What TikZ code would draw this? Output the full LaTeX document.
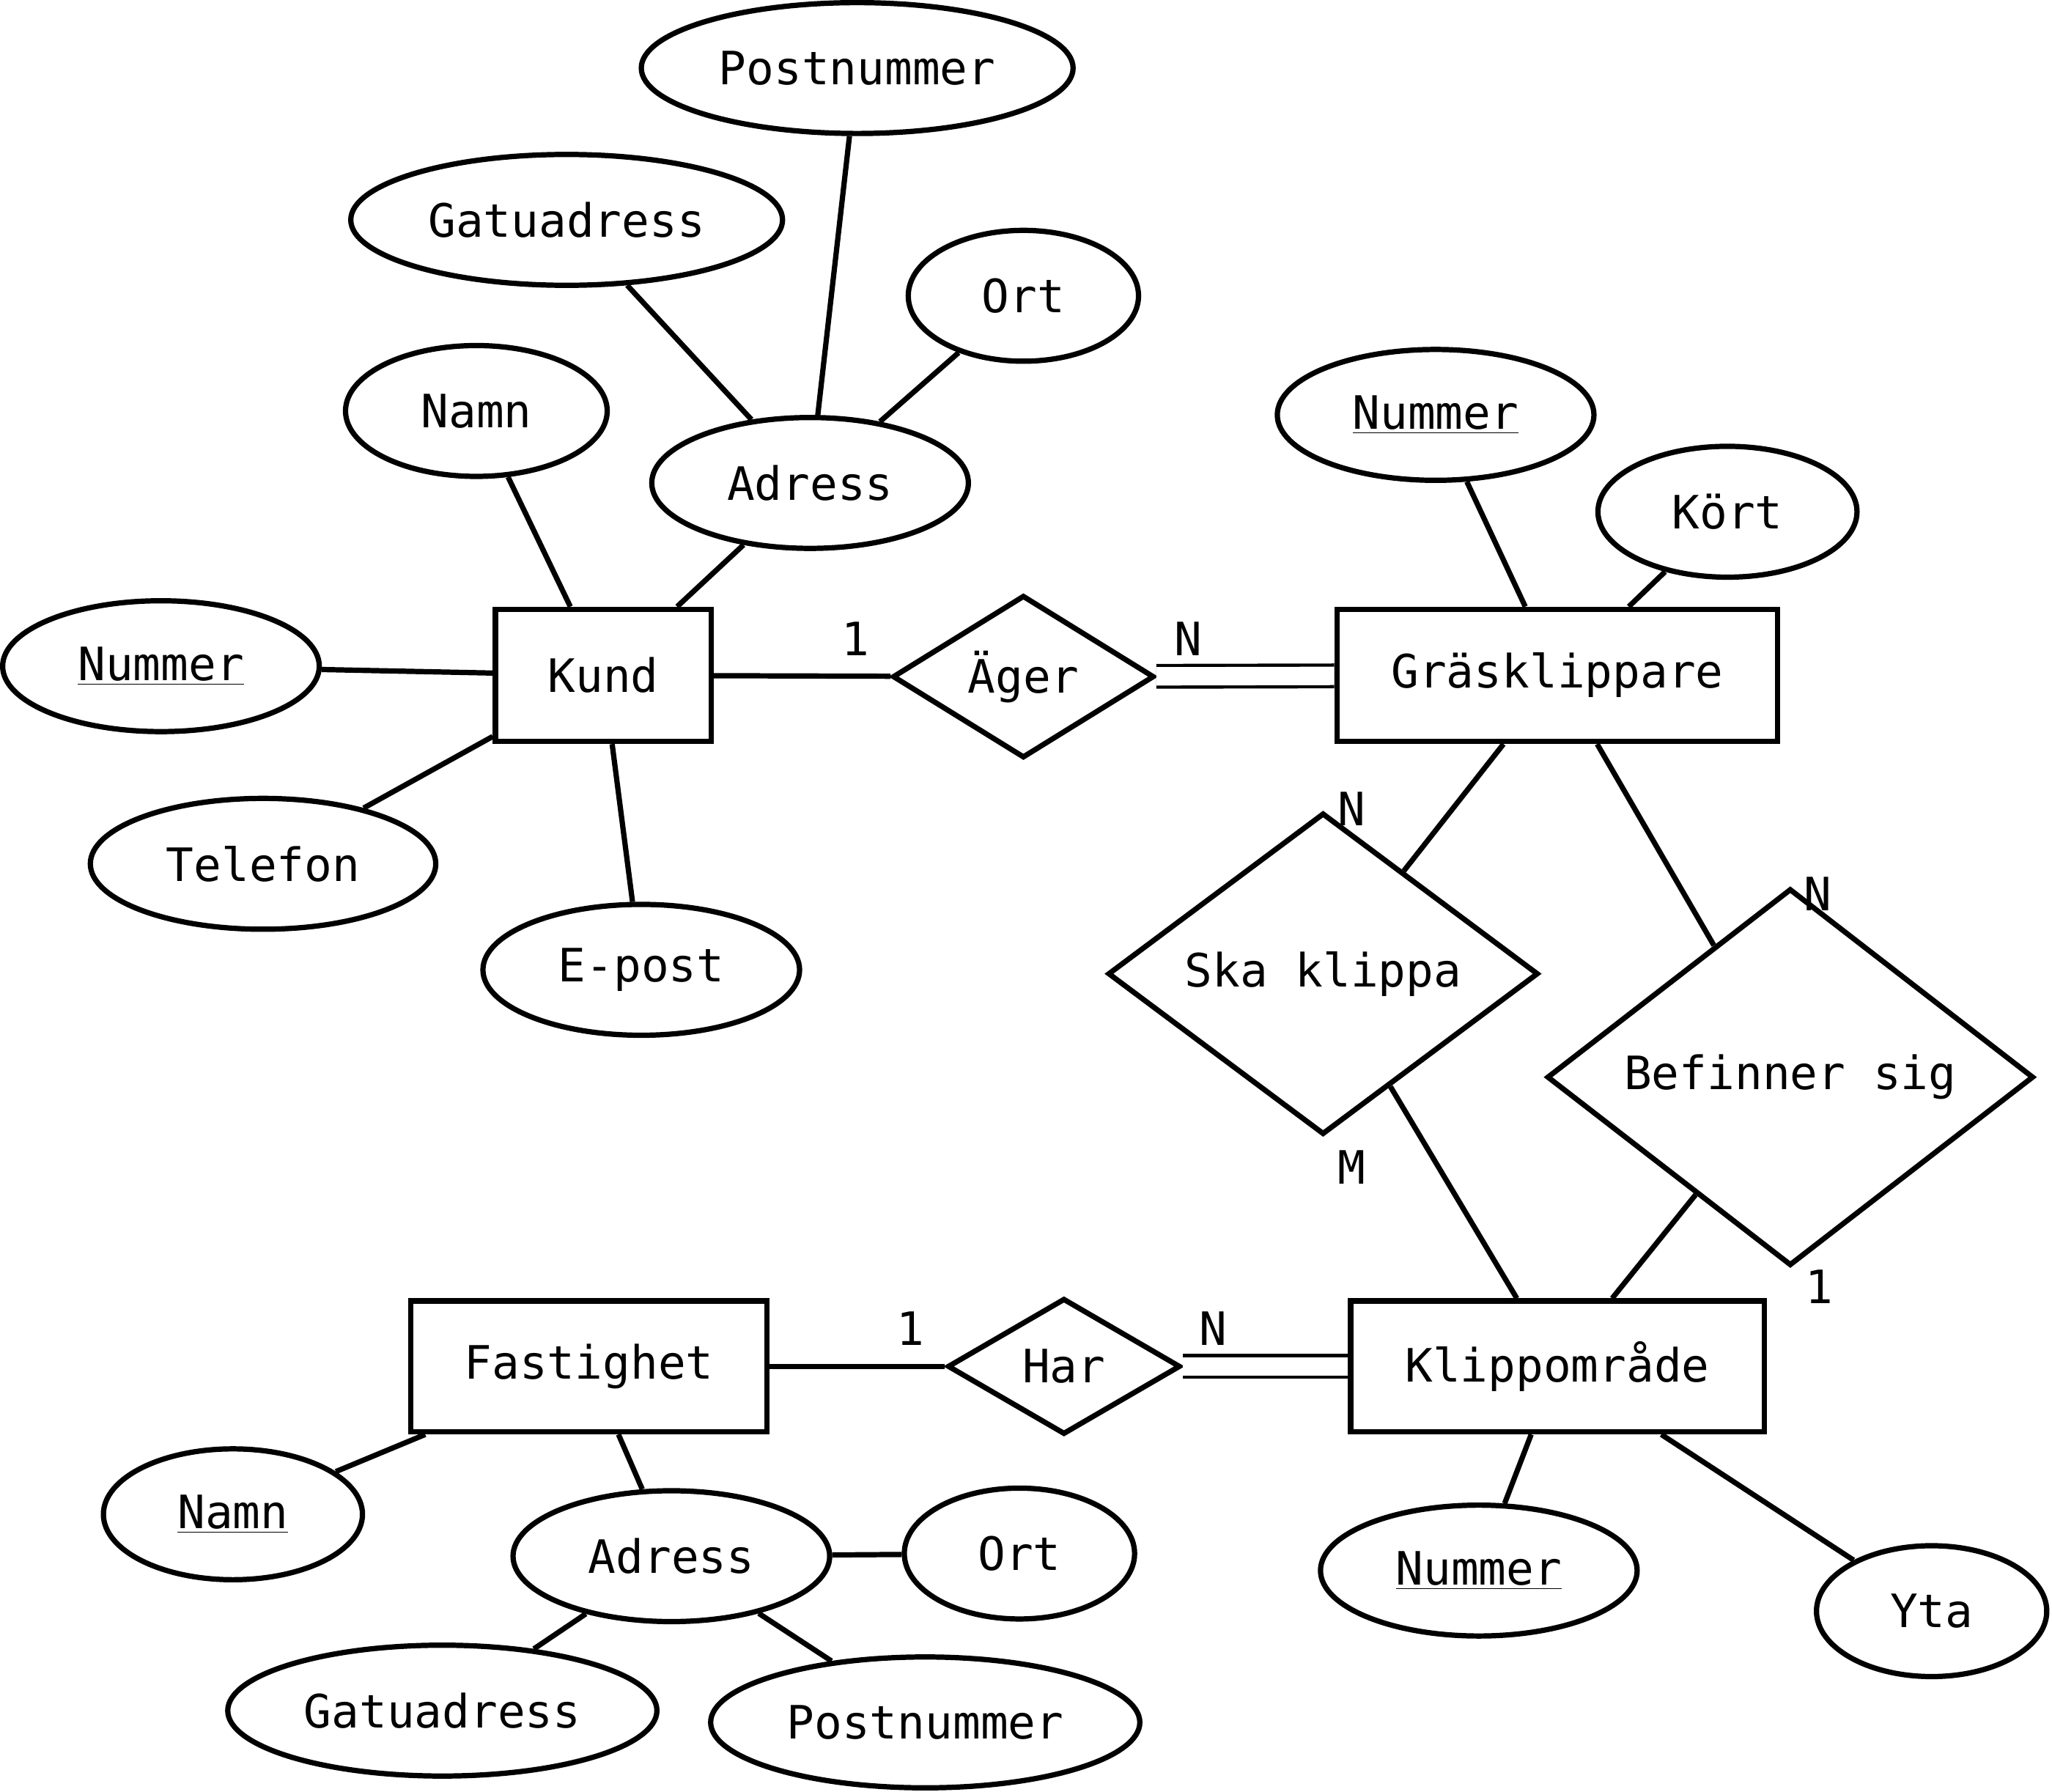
\documentclass[tikz,border=0pt]{standalone}
\usepackage{fontspec}
\setmainfont{DejaVu Sans Mono}
\usetikzlibrary{shapes.geometric}

\tikzset{
  attr/.style={draw, ellipse, line width=2.3pt, inner sep=0pt},
  ent/.style={draw, rectangle, line width=2.3pt, inner sep=0pt},
  rel/.style={draw, diamond, line width=2.3pt, inner sep=0pt},
  con/.style={line width=2.3pt},
  dbl/.style={line width=1.4pt, double, double distance=8pt},
  card/.style={inner sep=0pt}
}

\begin{document}
\begin{tikzpicture}[x=0.02cm, y=-0.02cm, font=\fontsize{20}{24}\selectfont]
  \useasboundingbox (0,0) rectangle (1568,1369);

  % entities
  \node[ent, minimum width=3.3cm, minimum height=2.02cm] (kund) at (461,516) {Kund};
  \node[ent, minimum width=6.74cm, minimum height=2.02cm] (gras) at (1190,516) {Gräsklippare};
  \node[ent, minimum width=5.44cm, minimum height=2.0cm] (fast) at (450,1044) {Fastighet};
  \node[ent, minimum width=6.32cm, minimum height=2.0cm] (klipp) at (1190,1044) {Klippområde};

  % relations
  \node[rel, minimum width=4.0cm, minimum height=2.36cm] (ager) at (782,517) {Äger};
  \node[rel, minimum width=6.58cm, minimum height=3.92cm] (ska) at (1011,744) {Ska klippa};
  \node[rel, minimum width=7.44cm, minimum height=4.44cm] (bef) at (1368,823) {Befinner sig};
  \node[rel, minimum width=3.56cm, minimum height=2.08cm] (har) at (813,1044) {Har};

  % attributes of Kund
  \node[attr, minimum width=6.6cm, minimum height=2cm] (kpost) at (655,52) {Postnummer};
  \node[attr, minimum width=6.6cm, minimum height=2cm] (kgata) at (433,168) {Gatuadress};
  \node[attr, minimum width=3.52cm, minimum height=2cm] (kort) at (782,226) {Ort};
  \node[attr, minimum width=4.0cm, minimum height=2cm] (knamn) at (364,314) {Namn};
  \node[attr, minimum width=4.84cm, minimum height=2cm] (kadr) at (619,369) {Adress};
  \node[attr, minimum width=4.84cm, minimum height=2cm] (knr) at (123,509) {\underline{Nummer}};
  \node[attr, minimum width=5.28cm, minimum height=2cm] (ktel) at (201,660) {Telefon};
  \node[attr, minimum width=4.84cm, minimum height=2cm] (kmail) at (490,741) {E-post};

  % attributes of Gräsklippare
  \node[attr, minimum width=4.84cm, minimum height=2cm] (gnr) at (1097,317) {\underline{Nummer}};
  \node[attr, minimum width=3.96cm, minimum height=2cm] (gkort) at (1320,391) {Kört};

  % attributes of Fastighet
  \node[attr, minimum width=3.96cm, minimum height=2cm] (fnamn) at (178,1157) {\underline{Namn}};
  \node[attr, minimum width=4.84cm, minimum height=2cm] (fadr) at (513,1189) {Adress};
  \node[attr, minimum width=3.52cm, minimum height=2cm] (fort) at (779,1187) {Ort};
  \node[attr, minimum width=6.56cm, minimum height=2cm] (fgata) at (338,1307) {Gatuadress};
  \node[attr, minimum width=6.56cm, minimum height=2cm] (fpost) at (707,1316) {Postnummer};

  % attributes of Klippområde
  \node[attr, minimum width=4.84cm, minimum height=2cm] (knr2) at (1130,1200) {\underline{Nummer}};
  \node[attr, minimum width=3.52cm, minimum height=2cm] (yta) at (1476,1231) {Yta};

  % attribute lines
  \draw[con] (kpost) -- (kadr);
  \draw[con] (kgata) -- (kadr);
  \draw[con] (kort) -- (kadr);
  \draw[con] (kadr) -- (kund);
  \draw[con] (knamn) -- (kund);
  \draw[con] (knr) -- (kund);
  \draw[con] (ktel) -- (kund);
  \draw[con] (kmail) -- (kund);
  \draw[con] (gnr) -- (gras);
  \draw[con] (gkort) -- (gras);
  \draw[con] (fnamn) -- (fast);
  \draw[con] (fadr) -- (fast);
  \draw[con] (fort) -- (fadr);
  \draw[con] (fgata) -- (fadr);
  \draw[con] (fpost) -- (fadr);
  \draw[con] (knr2) -- (klipp);
  \draw[con] (yta) -- (klipp);

  % relation lines
  \draw[con] (kund) -- (ager);
  \draw[dbl] (ager) -- (gras);
  \draw[con] (gras) -- (ska);
  \draw[con] (ska) -- (klipp);
  \draw[con] (gras) -- (bef);
  \draw[con] (bef) -- (klipp);
  \draw[con] (fast) -- (har);
  \draw[dbl] (har) -- (klipp);

  % cardinalities
  \node[card] (c1) at (654,488) {1};
  \node[card] (c2) at (908,488) {N};
  \node[card] (c3) at (1033,618) {N};
  \node[card] (c4) at (1033,892) {M};
  \node[card] (c5) at (1389,683) {N};
  \node[card] (c6) at (1390,983) {1};
  \node[card] (c7) at (696,1015) {1};
  \node[card] (c8) at (927,1015) {N};
\end{tikzpicture}
\end{document}
